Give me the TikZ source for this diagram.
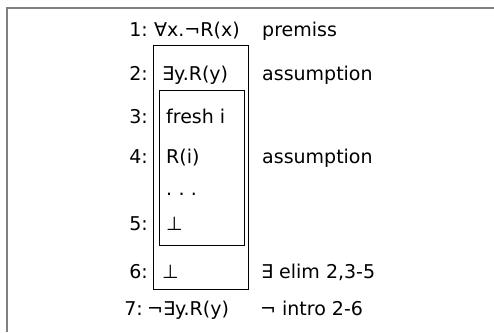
\documentclass[tikz,border=0pt]{standalone}
\usepackage{fontspec}
\setmainfont{DejaVu Sans}

\begin{document}
\begin{tikzpicture}[x=1pt, y=-1pt,
    linenum/.style={anchor=base east, inner sep=0pt, font=\fontsize{19}{23}\selectfont},
    formula/.style={anchor=base west, inner sep=0pt, font=\fontsize{19}{23}\selectfont},
    rulejust/.style={anchor=base west, inner sep=0pt, font=\fontsize{19}{23}\selectfont},
    proofbox/.style={draw=black, line width=1pt},
    frameline/.style={draw=black!50, line width=2pt},
  ]
    \useasboundingbox (0,0) rectangle (494,332);
    \draw[frameline] (6.5,332) -- (6.5,7.5) -- (494,7.5);

    % subproof boxes
    \draw[proofbox] (153,45) rectangle (248,289);
    \draw[proofbox] (159,90) rectangle (244,245);

    % line numbers
    \node[linenum] (n1) at (148,36) {1:};
    \node[linenum] (n2) at (148,80) {2:};
    \node[linenum] (n3) at (148,123) {3:};
    \node[linenum] (n4) at (148,163) {4:};
    \node[linenum] (n5) at (148,230) {5:};
    \node[linenum] (n6) at (148,278) {6:};
    \node[linenum] (n7) at (143,315) {7:};

    % formulas
    \node[formula] (f1) at (154,36) {∀x.¬R(x)};
    \node[formula] (f2) at (162,80) {∃y.R(y)};
    \node[formula] (f3) at (166,123) {fresh i};
    \node[formula] (f4) at (166,163) {R(i)};
    \node[formula] (fdots) at (166,195) {.\,\,.\,\,.};
    \node[formula] (f5) at (166,230) {⊥};
    \node[formula] (f6) at (162,278) {⊥};
    \node[formula] (f7) at (147,315) {¬∃y.R(y)};

    % justifications
    \node[rulejust] (j1) at (262,36) {premiss};
    \node[rulejust] (j2) at (262,80) {assumption};
    \node[rulejust] (j4) at (262,163) {assumption};
    \node[rulejust] (j6) at (261,278) {∃ elim 2,3-5};
    \node[rulejust] (j7) at (260,315) {¬ intro 2-6};
\end{tikzpicture}
\end{document}
